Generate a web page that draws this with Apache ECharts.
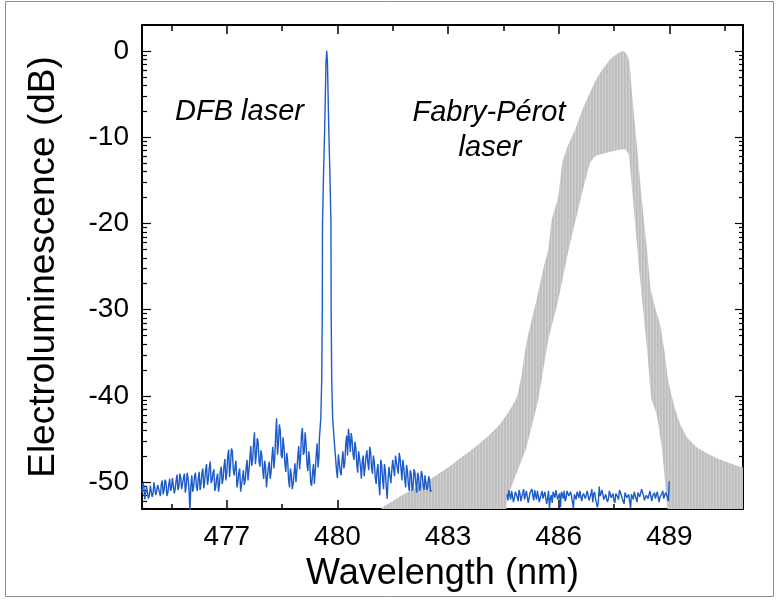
<!DOCTYPE html>
<html><head><meta charset="utf-8">
<script src="https://cdn.jsdelivr.net/npm/echarts@6/dist/echarts.min.js"></script>
<style>html,body{margin:0;padding:0;background:#fff}#c{width:779px;height:603px}</style>
</head><body><div id="c"></div>
<script>
// ---- axis ticks ----
const xTicks = [477, 480, 483, 486, 489];
const xMinorTicks = [475.5, 478.5, 481.5, 484.5, 487.5, 490.5];
const yTicks = [0, -10, -20, -30, -40, -50];

// ---- DFB laser spectrum (blue): readings every 0.05 nm plus the half-step readings in between ----
const dfbStep = 0.05;
const dfbStart1 = 474.70;
const dfbNoise1 = [
 -51.2,-50.4,-51.8,-50.6,-51.5,-50.2,-51.3,-49.9,-51.0,-50.1,
 -51.6,-49.8,-50.9,-50.0,-51.2,-49.6,-50.7,-49.3,-50.8,-49.1,
 -50.5,-49.4,-51.0,-49.0,-50.4,-49.5,-53.4,-49.2,-50.6,-48.9,
 -51.0,-48.8,-50.2,-48.4,-49.9,-47.9,-49.6,-47.6,-49.8,-48.5,
 -50.6,-49.0,-50.3,-48.2,-49.6,-47.3,-48.9,-46.2,-48.0,-46.4,
 -49.2,-47.5,-50.0,-48.4,-50.9,-48.6,-49.8,-47.4,-48.6,-45.8,
 -47.5,-44.2,-46.8,-45.3,-48.2,-46.9,-49.6,-48.1,-50.4,-47.6,
 -48.9,-45.9,-47.3,-42.6,-45.5,-44.0,-47.2,-45.9,-48.8,-47.5,
 -50.6,-49.1,-50.2,-47.8,-48.6,-45.8,-47.1,-43.7,-46.5,-45.6,
 -48.7,-47.7,-50.4,-47.9,-48.6,-45.5,-47.0
];
const dfbMid1 = [
 -50.1,-52.0,-50.5,-51.9,-50.4,-51.7,-50.0,-51.5,-50.3,-51.2,
 -50.2,-51.4,-49.7,-51.6,-50.3,-51.0,-49.5,-51.3,-49.8,-50.9,
 -49.0,-50.8,-49.5,-51.2,-48.9,-50.8,-50.4,-51.1,-49.3,-50.5,
 -49.6,-50.9,-48.9,-50.7,-48.6,-50.3,-48.3,-50.1,-48.9,-51.0,
 -49.5,-51.1,-48.7,-50.2,-48.1,-49.8,-47.0,-49.4,-46.1,-48.5,
 -48.1,-50.6,-48.9,-51.1,-49.5,-50.3,-48.3,-49.8,-47.2,-48.1,
 -45.6,-47.9,-44.9,-47.7,-46.3,-48.7,-47.5,-50.6,-48.3,-49.6,
 -47.0,-48.4,-44.5,-46.8,-43.3,-46.9,-44.8,-47.8,-46.6,-49.7,
 -48.4,-50.8,-48.9,-50.0,-47.0,-48.5,-44.5,-46.8,-44.2,-48.0,
 -46.4,-50.1,-48.9,-50.2,-46.8,-48.3
];
const dfbPeak = [
 [479.51,-45.0],[479.55,-42.5],[479.575,-38.0],[479.59,-30.0],[479.595,-20.0],
 [479.625,-14.0],[479.655,-9.0],[479.69,-1.4],[479.71,0.0],[479.73,-1.4],
 [479.765,-9.0],[479.795,-14.0],[479.825,-20.0],[479.83,-30.0],[479.845,-38.0],
 [479.87,-42.5],[479.91,-45.0]
];
const dfbStart2 = 479.95;
const dfbNoise2 = [
 -47.2,-49.5,-47.0,-49.2,-46.4,-47.8,-44.6,-43.8,-46.5,-45.2,
 -47.4,-46.0,-48.9,-47.2,-49.6,-46.9,-48.3,-46.3,-48.6,-46.5,
 -49.0,-47.6,-50.2,-47.9,-51.5,-48.0,-50.8,-48.6,-51.9,-48.2,
 -50.1,-47.4,-49.3,-46.7,-49.0,-47.2,-49.8,-48.3,-50.6,-48.7,
 -51.0,-49.0,-50.7,-48.8,-51.2,-49.3,-50.5,-49.1,-50.9,-49.4,
 -50.6,-49.8,-50.9
];
const dfbMid2 = [
 -48.6,-46.8,-48.7,-47.5,-48.4,-45.6,-46.9,-45.0,-44.3,-46.8,
 -45.3,-47.9,-46.4,-48.2,-47.5,-49.3,-47.0,-47.8,-45.9,-48.3,
 -46.9,-49.4,-48.6,-50.3,-47.4,-49.6,-47.9,-50.6,-49.5,-49.3,
 -48.6,-48.5,-46.9,-48.4,-46.6,-48.5,-47.4,-49.6,-48.0,-50.3,
 -48.6,-51.0,-48.5,-50.1,-48.9,-51.0,-48.7,-50.4,-49.2,-50.9,
 -49.3,-51.1
];
const dfbStart3 = 484.60;
const dfbNoise3 = [
 -51.4,-50.9,-52.0,-51.2,-51.8,-51.0,-52.2,-51.3,
 -51.7,-50.8,-51.9,-51.1,-52.3,-51.4,-51.6,-50.9,-52.0,-51.2,
 -51.8,-51.0,-52.1,-51.3,-51.9,-53.0,-51.5,-51.1,-51.8,-50.9,
 -51.6,-52.9,-51.4,-51.0,-51.9,-51.2,-51.7,-51.0,-53.0,-51.5,
 -51.1,-51.8,-50.9,-51.6,-51.2,-51.9,-51.0,-51.7,-50.8,-51.4,
 -51.9,-52.9,-50.5,-51.3,-51.0,-51.8,-51.2,-51.9,-51.1,-51.6,
 -52.1,-51.3,-51.7,-50.9,-51.5,-52.0,-51.2,-51.8,-51.4,-53.0,
 -51.6,-51.1,-51.9,-51.2,-51.7,-50.8,-51.5,-52.1,-51.3,-51.8,
 -51.0,-51.6,-51.2,-51.9,-51.1,-51.7,-51.3,-51.9,-51.2,-51.7,
 -49.9
];
const dfbMid3 = [
 -52.1,-51.5,-51.0,-52.3,-51.1,-51.7,-50.9,-52.2,-51.3,-52.0,
 -51.0,-52.4,-51.2,-50.8,-52.1,-51.5,-51.0,-52.3,-51.4,-51.9,
 -51.1,-52.5,-51.0,-51.9,-52.4,-51.2,-50.9,-52.0,-51.3,-51.1,
 -51.9,-52.2,-51.0,-51.6,-51.1,-52.3,-51.4,-52.0,-51.2,-51.0,
 -52.2,-51.3,-51.9,-51.0,-52.1,-51.4,-52.3,-51.1,-51.7,-52.4,
 -51.6,-50.9,-52.0,-51.4,-52.3,-51.0,-51.8,-51.3,-52.4,-51.1,
 -52.0,-51.2,-51.9,-52.5,-51.0,-51.6,-52.2,-51.4,-52.0,-51.1,
 -52.3,-51.2,-51.8,-51.0,-52.1,-51.5,-51.9,-51.0,-52.2,-51.4,
 -51.9,-51.1,-52.3,-51.5,-51.0,-52.0,-51.4,-52.2
];

// ---- Fabry-Perot laser spectrum (grey): outer and inner envelopes of the mode comb ----
const fpUpper = [
 [481.0,-55],[481.2,-53.0],[481.5,-52.2],[481.8,-51.4],[482.2,-50.5],[482.5,-49.7],
 [483.0,-48.3],[483.4,-47.0],[483.8,-45.7],[484.1,-44.6],[484.4,-43.3],[484.65,-41.8],
 [484.86,-40.2],[485.0,-37.5],[485.13,-33.8],[485.28,-31.0],[485.4,-28.9],[485.6,-25.0],
 [485.72,-23.0],[485.81,-19.6],[485.99,-16.9],[486.1,-13.0],[486.25,-11.0],[486.44,-9.2],
 [486.62,-7.1],[486.8,-5.3],[486.96,-3.8],[487.12,-2.6],[487.39,-1.0],[487.6,-0.3],
 [487.75,0.0],[487.85,-0.4],[487.92,-1.4],[488.0,-5.3],[488.1,-9.9],[488.25,-16.9],
 [488.39,-22.7],[488.5,-27.7],[488.62,-29.8],[488.75,-31.7],[488.87,-34.8],[488.97,-38.1],
 [489.1,-40.6],[489.2,-42.0],[489.3,-43.3],[489.5,-44.9],[489.74,-45.9],[490.1,-46.8],
 [490.4,-47.4],[490.9,-48.2],[491.0,-48.3]
];
const fpLower = [
 [481.0,-55],[484.5,-55],[484.6,-52.0],[484.9,-48.5],[485.13,-45.9],[485.3,-43.0],
 [485.45,-40.4],[485.72,-33.5],[485.99,-28.9],[486.25,-23.5],[486.58,-17.5],[486.85,-13.0],
 [487.0,-12.2],[487.4,-11.7],[487.8,-11.4],[487.9,-12.0],[488.02,-17.3],[488.2,-26.0],
 [488.4,-34.6],[488.52,-40.4],[488.65,-42.0],[488.8,-46.0],[488.95,-53.0],[489.0,-55],
 [491.0,-55]
];

// ---- build series data (interleave the whole-step and half-step readings) ----
function seg(start, main, mid) {
  const out = [];
  main.forEach((v, i) => {
    out.push([start + i * dfbStep, v]);
    if (i < mid.length) out.push([start + (i + 0.5) * dfbStep, mid[i]]);
  });
  return out;
}
const dfbPart1 = seg(dfbStart1, dfbNoise1, dfbMid1).concat(dfbPeak, seg(dfbStart2, dfbNoise2, dfbMid2));
const dfbPart2 = seg(dfbStart3, dfbNoise3, dfbMid3);

const X_MIN = 474.7, X_MAX = 491.0, Y_MIN = -53.1, Y_MAX = 3.0;
const FONT = "'Liberation Sans', Arial, Helvetica, sans-serif";

// minor (log-style) ticks on y: below each decade mark
const yMinorTicks = [];
for (let k = 0; k <= 5; k++) {
  for (let m = 2; m <= 9; m++) {
    const v = -10 * k - 10 * (1 - Math.log10(m));
    if (v >= Y_MIN) yMinorTicks.push(v);
  }
}

// fine stripe pattern for the grey mode comb
const pc = document.createElement('canvas');
pc.width = 3; pc.height = 4;
const pg = pc.getContext('2d');
['#bdbdbd', '#c3c3c3', '#cfcfcf'].forEach((c, i) => { pg.fillStyle = c; pg.fillRect(i, 0, 1, 4); });
const stripe = { image: pc, repeat: 'repeat' };

const black = '#000';
function xAxisDef(pos, ticks, len, main) {
  return {
    type: 'value', position: pos, min: X_MIN, max: X_MAX,
    axisLine: { show: main, onZero: false, lineStyle: { color: black, width: 2 } },
    axisTick: { show: true, inside: true, length: len, customValues: ticks, lineStyle: { color: black, width: 1.5 } },
    axisLabel: { show: false },
    splitLine: { show: false }
  };
}
function yAxisDef(pos, ticks, len, main) {
  return {
    type: 'value', position: pos, min: Y_MIN, max: Y_MAX,
    axisLine: { show: main, onZero: false, lineStyle: { color: black, width: 2 } },
    axisTick: { show: true, inside: true, length: len, customValues: ticks, lineStyle: { color: black, width: 1.2 } },
    axisLabel: { show: false },
    splitLine: { show: false }
  };
}

const xBottom = xAxisDef('bottom', xTicks, 9, true);
xBottom.axisLabel = { show: true, customValues: xTicks, fontSize: 28, fontFamily: FONT, color: black, margin: 14 };
xBottom.name = 'Wavelength (nm)';
xBottom.nameLocation = 'middle';
xBottom.nameGap = 42;
xBottom.nameTextStyle = { fontSize: 36, fontFamily: FONT, color: black };

const yLeft = yAxisDef('left', yTicks, 9, true);
yLeft.axisLabel = { show: true, customValues: yTicks, fontSize: 28, fontFamily: FONT, color: black, margin: 13 };
yLeft.name = 'Electroluminescence (dB)';
yLeft.nameLocation = 'middle';
yLeft.nameGap = 80;
yLeft.nameTextStyle = { fontSize: 37, fontFamily: FONT, color: black };

const lineStyleDFB = { color: '#1d5cc8', width: 1.4 };

const chart = echarts.init(document.getElementById('c'), null, { renderer: 'canvas' });
chart.setOption({
  animation: false,
  backgroundColor: '#fff',
  grid: { left: 142, right: 36, top: 25, bottom: 94, containLabel: false, outerBoundsMode: 'none' },
  xAxis: [
    xBottom,
    xAxisDef('bottom', xMinorTicks, 5, false),
    xAxisDef('top', xTicks, 9, true),
    xAxisDef('top', xMinorTicks, 6, false)
  ],
  yAxis: [
    yLeft,
    yAxisDef('left', yMinorTicks, 5, false),
    yAxisDef('right', yTicks, 8, true),
    yAxisDef('right', yMinorTicks, 4, false)
  ],
  series: [
    {
      name: 'Fabry-Pérot laser', type: 'custom', coordinateSystem: 'cartesian2d',
      xAxisIndex: 0, yAxisIndex: 0, silent: true, z: 1, clip: true,
      data: [fpUpper[0]],
      renderItem: function (params, api) {
        const pts = fpUpper.map(p => api.coord(p));
        for (let i = fpLower.length - 1; i >= 0; i--) pts.push(api.coord(fpLower[i]));
        const cs = params.coordSys;
        return {
          type: 'polygon',
          shape: { points: pts, smooth: 0.15 },
          style: { fill: stripe, stroke: null },
          clipPath: { type: 'rect', shape: { x: cs.x, y: cs.y, width: cs.width, height: cs.height } }
        };
      }
    },
    {
      name: 'DFB laser', type: 'line', xAxisIndex: 0, yAxisIndex: 0, z: 3,
      data: dfbPart1, showSymbol: false, symbol: 'none', clip: true, lineStyle: lineStyleDFB
    },
    {
      name: 'DFB laser', type: 'line', xAxisIndex: 0, yAxisIndex: 0, z: 3,
      data: dfbPart2, showSymbol: false, symbol: 'none', clip: true, lineStyle: lineStyleDFB
    }
  ],
  graphic: [
    { type: 'rect', silent: true, z: -10, shape: { x: 5.5, y: 1.5, width: 768, height: 595 },
      style: { fill: null, stroke: '#8c8c8c', lineWidth: 1 } },
    { type: 'text', silent: true, x: 175, y: 112,
      style: { text: 'DFB laser', font: "italic 29px 'Liberation Sans', Arial, sans-serif", fill: black, verticalAlign: 'middle', align: 'left' } },
    { type: 'text', silent: true, x: 489, y: 113,
      style: { text: 'Fabry-Pérot', font: "italic 29px 'Liberation Sans', Arial, sans-serif", fill: black, verticalAlign: 'middle', align: 'center' } },
    { type: 'text', silent: true, x: 490, y: 148,
      style: { text: 'laser', font: "italic 29px 'Liberation Sans', Arial, sans-serif", fill: black, verticalAlign: 'middle', align: 'center' } }
  ]
});
</script>
</body></html>
